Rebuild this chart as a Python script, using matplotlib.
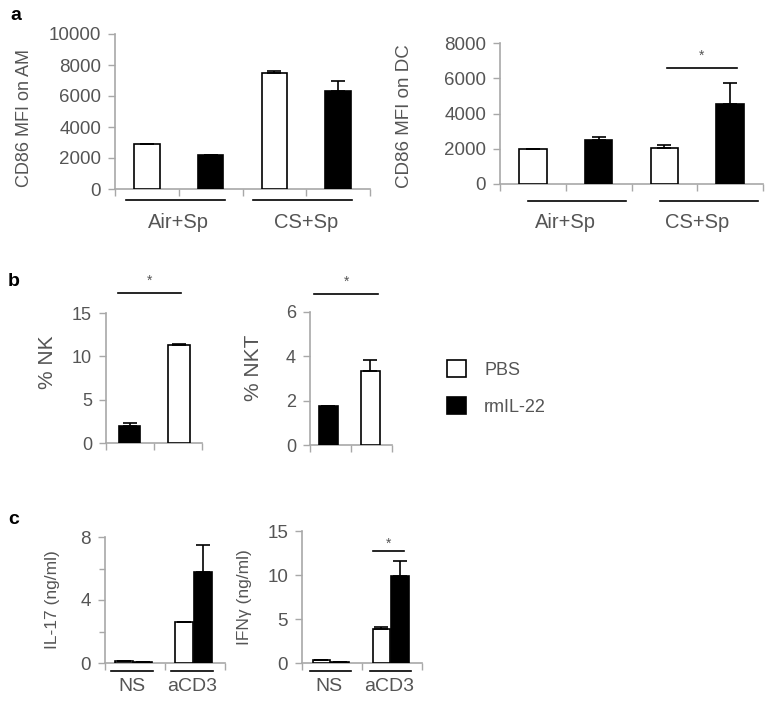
import numpy as np
import matplotlib.pyplot as plt
from matplotlib.patches import Patch

plt.rcParams['font.family'] = ['Liberation Sans', 'DejaVu Sans']

W, H = 767, 701

# panel a: CD86 MFI, groups Air+Sp / CS+Sp
a_groups = ['Air+Sp', 'CS+Sp']
am_pbs = [2900, 7500]
am_pbs_err = [0, 100]
am_il22 = [2200, 6300]
am_il22_err = [0, 700]
dc_pbs = [2000, 2050]
dc_pbs_err = [0, 150]
dc_il22 = [2500, 4550]
dc_il22_err = [150, 1200]

# panel b: rmIL-22 first, PBS second
nk_vals = [2.0, 11.3]
nk_err = [0.35, 0.15]
nkt_vals = [1.75, 3.35]
nkt_err = [0.0, 0.5]

# panel c
c_groups = ['NS', 'aCD3']
il17_pbs = [0.1, 2.6]
il17_pbs_err = [0.05, 0.0]
il17_il22 = [0.05, 5.8]
il17_il22_err = [0.0, 1.7]
ifng_pbs = [0.35, 3.85]
ifng_pbs_err = [0.0, 0.2]
ifng_il22 = [0.1, 9.85]
ifng_il22_err = [0.0, 1.75]

TXT = '#555555'
SPINE = '#a8a8a8'


def make_ax(fig, x0, y0, x1, y1):
    return fig.add_axes([x0 / W, 1 - y1 / H, (x1 - x0) / W, (y1 - y0) / H])


def style(ax, nslots, ymax, yticks, ylabel, labx, laby=0.5, fs=13, lfs=13, yminor=None):
    for s in ['top', 'right']:
        ax.spines[s].set_visible(False)
    for s in ['left', 'bottom']:
        ax.spines[s].set_color(SPINE)
        ax.spines[s].set_linewidth(1.2)
    ax.set_xlim(0, nslots)
    ax.set_ylim(0, ymax)
    ax.set_xticks(np.arange(nslots + 1))
    ax.set_xticklabels([])
    ax.set_yticks(yticks)
    ax.set_yticklabels([f'{t:g}' for t in yticks])
    if yminor is not None:
        ax.set_yticks(yminor, minor=True)
        ax.tick_params(axis='y', which='minor', length=4, color=SPINE, width=1)
    ax.tick_params(axis='both', which='major', length=5, color=SPINE, width=1,
                   labelsize=fs, labelcolor=TXT, pad=5)
    ax.set_ylabel(ylabel, fontsize=lfs, color=TXT)
    ax.yaxis.set_label_coords(labx, laby)
    ax.patch.set_alpha(0)


def bars(ax, x, vals, errs, color, width):
    ax.bar(x, vals, width, color=color, edgecolor='black', linewidth=1.2,
           yerr=[np.zeros(len(errs)), errs], capsize=5,
           error_kw=dict(ecolor='black', elinewidth=1.2, capthick=1.2), zorder=3)


def groups(ax, pos, names, x0, x1, yline, xlab, ylab, fs):
    tr = ax.get_xaxis_transform()
    for p, g in zip(pos, names):
        ax.plot([p + x0, p + x1], [yline, yline], color='black', lw=1.2,
                transform=tr, clip_on=False)
        ax.text(p + xlab, ylab, g, transform=tr, ha='center', va='center',
                fontsize=fs, color=TXT)


def sig(ax, x0, x1, y, ystar):
    ax.plot([x0, x1], [y, y], color='black', lw=1.2, clip_on=False)
    ax.text((x0 + x1) / 2, ystar, '*', ha='center', va='center', fontsize=10, color=TXT)


fig = plt.figure(figsize=(W / 100, H / 100), dpi=100)

# ---- a left
ax = make_ax(fig, 115, 34, 370, 189)
style(ax, 4, 10000, [0, 2000, 4000, 6000, 8000, 10000], 'CD86 MFI on AM',
      -82 / 255, laby=0.46, fs=13.5, lfs=13)
pos = np.arange(len(a_groups)) * 2
bars(ax, pos + 0.5, am_pbs, am_pbs_err, 'white', 0.4)
bars(ax, pos + 1.5, am_il22, am_il22_err, 'black', 0.4)
groups(ax, pos, a_groups, 0.17, 1.72, -0.072, 1.0, -0.213, 14.5)

# ---- a right
ax = make_ax(fig, 500, 43, 763, 184)
style(ax, 4, 8000, [0, 2000, 4000, 6000, 8000], 'CD86 MFI on DC',
      -87 / 263, laby=0.48, fs=13.5, lfs=13.5)
bars(ax, pos + 0.5, dc_pbs, dc_pbs_err, 'white', 0.42)
bars(ax, pos + 1.5, dc_il22, dc_il22_err, 'black', 0.42)
groups(ax, pos, a_groups, 0.43, 1.92, -0.12, 1.0, -0.27, 14.5)
sig(ax, 2.54, 3.6, 6580, 7300)

# ---- b left
ax = make_ax(fig, 106, 313, 202, 443)
style(ax, 2, 15, [0, 5, 10, 15], '% NK', -49 / 96, laby=0.62, fs=13, lfs=15)
bars(ax, [0.49], nk_vals[:1], nk_err[:1], 'black', 0.44)
bars(ax, [1.52], nk_vals[1:], nk_err[1:], 'white', 0.44)
sig(ax, 0.25, 1.56, 17.3, 18.7)

# ---- b right
ax = make_ax(fig, 310, 312, 392, 445)
style(ax, 2, 6, [0, 2, 4, 6], '% NKT', -47 / 82, laby=0.58, fs=13, lfs=15)
bars(ax, [0.45], nkt_vals[:1], nkt_err[:1], 'black', 0.46)
bars(ax, [1.47], nkt_vals[1:], nkt_err[1:], 'white', 0.46)
sig(ax, 0.1, 1.66, 6.8, 7.35)

# ---- legend
handles = [Patch(facecolor='white', edgecolor='black', linewidth=1.2, label='PBS'),
           Patch(facecolor='black', edgecolor='black', linewidth=1.2, label='rmIL-22')]
leg = fig.legend(handles=handles, loc='upper left', bbox_to_anchor=(447 / W, 1 - 360 / H),
                 frameon=False, fontsize=13, handlelength=1.05, handleheight=1.05,
                 handletextpad=1.0, labelspacing=1.05, borderpad=0, borderaxespad=0)
for t in leg.get_texts():
    t.set_color(TXT)

# ---- c left
cpos = np.arange(len(c_groups))
ax = make_ax(fig, 105, 537, 225, 663)
style(ax, 2, 8, [0, 4, 8], 'IL-17 (ng/ml)', -45 / 120, fs=13.5, lfs=12.5, yminor=[2, 6])
bars(ax, cpos + 0.32, il17_pbs, il17_pbs_err, 'white', 0.3)
bars(ax, cpos + 0.63, il17_il22, il17_il22_err, 'black', 0.3)
groups(ax, cpos, c_groups, 0.1, 0.8, -0.064, 0.45, -0.19, 14)

# ---- c right
ax = make_ax(fig, 302, 531, 422, 663)
style(ax, 2, 15, [0, 5, 10, 15], 'IFNγ (ng/ml)', -50 / 120, fs=13.5, lfs=12.5)
bars(ax, cpos + 0.32, ifng_pbs, ifng_pbs_err, 'white', 0.28)
bars(ax, cpos + 0.63, ifng_il22, ifng_il22_err, 'black', 0.3)
groups(ax, cpos, c_groups, 0.13, 0.82, -0.061, 0.45, -0.18, 14)
sig(ax, 1.18, 1.7, 12.7, 13.6)

# panel letters
for lab, x, y in [('a', 10, 15), ('b', 8, 282), ('c', 8, 520)]:
    fig.text(x / W, 1 - y / H, lab, fontsize=14, fontweight='bold', va='center', ha='left')

fig.savefig('out.png', dpi=100, facecolor='white')
